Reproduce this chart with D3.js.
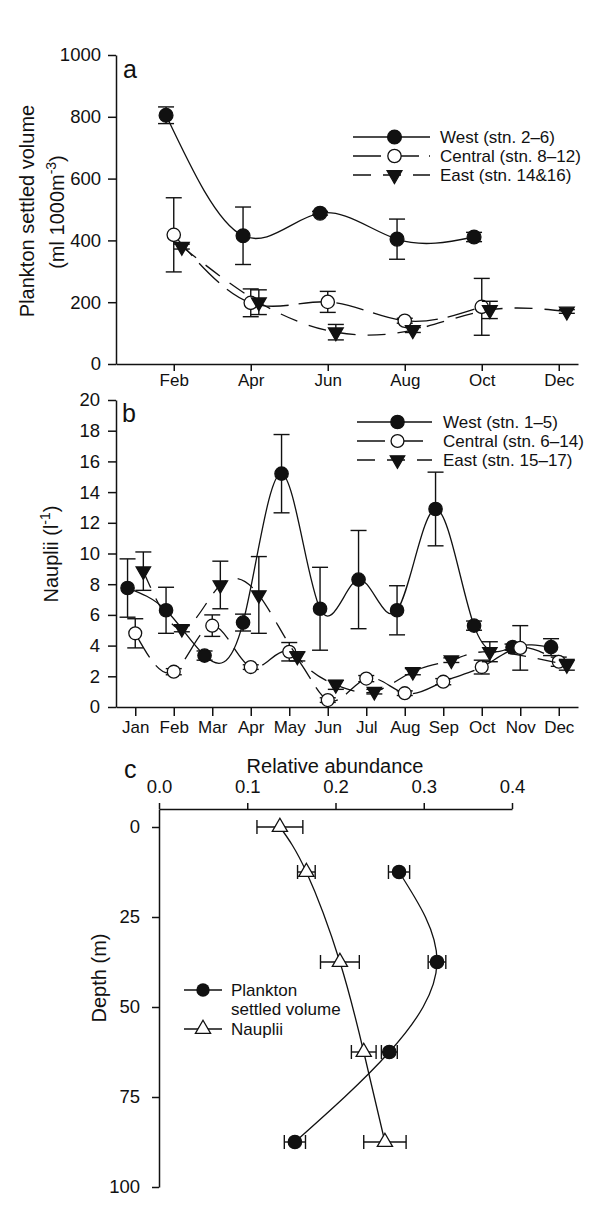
<!DOCTYPE html>
<html>
<head>
<meta charset="utf-8">
<script src="https://cdn.jsdelivr.net/npm/d3@7"></script>
<style>
  body { margin: 0; background: #fff; }
  text { font-family: "Liberation Sans", Arial, sans-serif; fill: #111; }
</style>
</head>
<body>
<script>
// ---- data ----
var monthNames = ["Jan","Feb","Mar","Apr","May","Jun","Jul","Aug","Sep","Oct","Nov","Dec"];

// panel a: plankton settled volume
var aTickMonths = [2, 4, 6, 8, 10, 12];
var aWestMonths = [2, 4, 6, 8, 10];
var aWest = [805, 415, 488, 404, 411];
var aWestErr = [27, 93, 6, 65, 15];
var aCentralMonths = [2, 4, 6, 8, 10];
var aCentral = [418, 198, 201, 140, 185];
var aCentralErr = [120, 45, 34, 8, 92];
var aEastMonths = [2, 4, 6, 8, 10, 12];
var aEast = [380, 200, 103, 110, 175, 170];
var aEastErr = [8, 40, 25, 8, 28, 6];

// panel b: nauplii
var bWestMonths = [1,2,3,4,5,6,7,8,9,10,11,12];
var bWest = [7.75, 6.3, 3.35, 5.5, 15.2, 6.4, 8.3, 6.3, 12.9, 5.3, 3.9, 3.9];
var bWestErr = [1.9, 1.5, 0.3, 0.55, 2.55, 2.7, 3.2, 1.6, 2.4, 0.3, 0.2, 0.55];
var bCentralMonths = [1,2,3,4,5,6,7,8,9,10,11,12];
var bCentral = [4.8, 2.3, 5.3, 2.6, 3.6, 0.45, 1.85, 0.9, 1.65, 2.6, 3.85, 2.95];
var bCentralErr = [0.95, 0.2, 0.7, 0.15, 0.6, 0.15, 0.2, 0.15, 0.2, 0.45, 1.45, 0.3];
var bEastMonths = [1,2,3,4,5,6,7,8,9,10,12];
var bEast = [8.85, 5.1, 7.95, 7.3, 3.3, 1.45, 1.0, 2.3, 3.05, 3.6, 2.75];
var bEastErr = [1.25, 0.2, 1.55, 2.5, 0.3, 0.3, 0.15, 0.2, 0.15, 0.65, 0.35];

// panel c: relative abundance by depth
var cDepthTicks = [0, 25, 50, 75, 100];
var cAbundTicks = [0, 0.1, 0.2, 0.3, 0.4];
var psvDepth = [12.5, 37.5, 62.5, 87.5];
var psv = [0.272, 0.315, 0.261, 0.154];
var psvErr = [0.012, 0.01, 0.009, 0.012];
var naupDepth = [0, 12.5, 37.5, 62.5, 87.5];
var naup = [0.137, 0.167, 0.205, 0.232, 0.256];
var naupErr = [0.026, 0.01, 0.022, 0.014, 0.024];

var westShift = -0.2, eastShift = 0.21;

var svg = d3.select("body").append("svg")
  .attr("width", 598)
  .attr("height", 1222);

svg.append("rect").attr("width", 598).attr("height", 1222).attr("fill", "#fff");

var INK = "#111";

function styleAxis(g, fs) {
  g.select(".domain").attr("stroke", INK).attr("stroke-width", 1.5);
  g.selectAll(".tick line").attr("stroke", INK).attr("stroke-width", 1.5);
  g.selectAll(".tick text").attr("font-size", fs + "px").attr("fill", INK)
    .attr("font-family", "Liberation Sans, Arial, sans-serif");
}

function zip(xs, ys, es) {
  return xs.map(function(x, i) { return {x: x, y: ys[i], e: es[i]}; });
}

// draws one series: line, error bars, markers
function drawSeries(g, pts, sx, sy, shift, opt) {
  var line = d3.line()
    .x(function(d) { return sx(d.x + shift); })
    .y(function(d) { return sy(d.y); })
    .curve(d3.curveNatural);

  g.append("path")
    .datum(pts)
    .attr("d", line)
    .attr("fill", "none")
    .attr("stroke", INK)
    .attr("stroke-width", 1.3)
    .attr("stroke-dasharray", opt.dash || null);

  var eb = g.append("g").attr("stroke", INK).attr("stroke-width", 1.4);
  pts.forEach(function(d) {
    var cx = sx(d.x + shift), y1 = sy(d.y + d.e), y2 = sy(d.y - d.e);
    eb.append("line").attr("x1", cx).attr("x2", cx).attr("y1", y1).attr("y2", y2);
    eb.append("line").attr("x1", cx - 8).attr("x2", cx + 8).attr("y1", y1).attr("y2", y1);
    eb.append("line").attr("x1", cx - 8).attr("x2", cx + 8).attr("y1", y2).attr("y2", y2);
  });

  g.selectAll(null)
    .data(pts)
    .enter()
    .append("path")
    .attr("transform", function(d) {
      return "translate(" + sx(d.x + shift) + "," + sy(d.y) + ")" + (opt.rot ? " rotate(180)" : "");
    })
    .attr("d", d3.symbol().type(opt.symbol).size(opt.size))
    .attr("fill", opt.fill)
    .attr("stroke", INK)
    .attr("stroke-width", 1.3);
}

function legendRow(g, x1, x2, y, dash, symbol, size, fill, rot, label, tx) {
  g.append("line").attr("x1", x1).attr("x2", x2).attr("y1", y).attr("y2", y)
    .attr("stroke", INK).attr("stroke-width", 1.3).attr("stroke-dasharray", dash || null);
  g.append("path")
    .attr("transform", "translate(" + ((x1 + x2) / 2 + 3) + "," + y + ")" + (rot ? " rotate(180)" : ""))
    .attr("d", d3.symbol().type(symbol).size(size))
    .attr("fill", fill).attr("stroke", INK).attr("stroke-width", 1.3);
  g.append("text").attr("x", tx).attr("y", y).attr("dy", "0.36em")
    .attr("font-size", "17px").text(label);
}

var CENTRAL_DASH = "28,10";
var EAST_DASH = "18,12";

// ================= panel a =================
var xA = d3.scaleLinear().domain([0.5, 12.5]).range([116, 578]);
var yA = d3.scaleLinear().domain([0, 1000]).range([364, 55]);

var gA = svg.append("g");
gA.append("g")
  .attr("transform", "translate(116,0)")
  .call(d3.axisLeft(yA).tickValues([0, 200, 400, 600, 800, 1000]).tickFormat(d3.format("d"))
    .tickSize(8).tickSizeOuter(0).tickPadding(7))
  .call(styleAxis, 18.5);
gA.append("g")
  .attr("transform", "translate(0,364)")
  .call(d3.axisBottom(xA).tickValues(aTickMonths).tickFormat(function(m) { return monthNames[m - 1]; })
    .tickSize(7).tickSizeOuter(0).tickPadding(3))
  .call(styleAxis, 17);

drawSeries(gA, zip(aWestMonths, aWest, aWestErr), xA, yA, westShift,
  {symbol: d3.symbolCircle, size: 150, fill: INK});
drawSeries(gA, zip(aCentralMonths, aCentral, aCentralErr), xA, yA, 0,
  {symbol: d3.symbolCircle, size: 140, fill: "#fff", dash: CENTRAL_DASH});
drawSeries(gA, zip(aEastMonths, aEast, aEastErr), xA, yA, eastShift,
  {symbol: d3.symbolTriangle, size: 95, fill: INK, rot: true, dash: EAST_DASH});

gA.append("text").attr("x", 123).attr("y", 78).attr("font-size", "25px").text("a");

gA.append("text")
  .attr("transform", "translate(34,211) rotate(-90)")
  .attr("text-anchor", "middle").attr("font-size", "20px")
  .text("Plankton settled volume");
var ta = gA.append("text")
  .attr("transform", "translate(64,212) rotate(-90)")
  .attr("text-anchor", "middle").attr("font-size", "20px");
ta.append("tspan").text("(ml 1000m");
ta.append("tspan").attr("baseline-shift", "super").attr("font-size", "14px").text("-3");
ta.append("tspan").text(")");

var legA = gA.append("g");
legendRow(legA, 353, 430, 137, null, d3.symbolCircle, 150, INK, false, "West (stn. 2\u20136)", 440);
legendRow(legA, 353, 430, 156, CENTRAL_DASH, d3.symbolCircle, 140, "#fff", false, "Central (stn. 8\u201312)", 440);
legendRow(legA, 353, 430, 175, EAST_DASH, d3.symbolTriangle, 95, INK, true, "East (stn. 14&16)", 440);

// ================= panel b =================
var xB = d3.scaleLinear().domain([0.5, 12.5]).range([116, 578]);
var yB = d3.scaleLinear().domain([0, 20]).range([707, 400]);

var gB = svg.append("g");
gB.append("g")
  .attr("transform", "translate(116,0)")
  .call(d3.axisLeft(yB).tickValues(d3.range(0, 21, 2)).tickSize(8).tickSizeOuter(0).tickPadding(8))
  .call(styleAxis, 18.5);
gB.append("g")
  .attr("transform", "translate(0,707)")
  .call(d3.axisBottom(xB).tickValues(d3.range(1, 13)).tickFormat(function(m) { return monthNames[m - 1]; })
    .tickSize(9).tickSizeOuter(0).tickPadding(5))
  .call(styleAxis, 17);

drawSeries(gB, zip(bWestMonths, bWest, bWestErr), xB, yB, westShift,
  {symbol: d3.symbolCircle, size: 140, fill: INK});
drawSeries(gB, zip(bCentralMonths, bCentral, bCentralErr), xB, yB, 0,
  {symbol: d3.symbolCircle, size: 130, fill: "#fff", dash: CENTRAL_DASH});
drawSeries(gB, zip(bEastMonths, bEast, bEastErr), xB, yB, eastShift,
  {symbol: d3.symbolTriangle, size: 90, fill: INK, rot: true, dash: EAST_DASH});

gB.append("text").attr("x", 122).attr("y", 422).attr("font-size", "25px").text("b");

var tb = gB.append("text")
  .attr("transform", "translate(58,554) rotate(-90)")
  .attr("text-anchor", "middle").attr("font-size", "20px");
tb.append("tspan").text("Nauplii (l");
tb.append("tspan").attr("baseline-shift", "super").attr("font-size", "14px").text("-1");
tb.append("tspan").text(")");

var legB = gB.append("g");
legendRow(legB, 357, 432, 422, null, d3.symbolCircle, 140, INK, false, "West (stn. 1\u20135)", 443);
legendRow(legB, 357, 432, 441, CENTRAL_DASH, d3.symbolCircle, 130, "#fff", false, "Central (stn. 6\u201314)", 443);
legendRow(legB, 357, 432, 460, EAST_DASH, d3.symbolTriangle, 90, INK, true, "East (stn. 15\u201317)", 443);

// ================= panel c =================
var xC = d3.scaleLinear().domain([0, 0.4]).range([159, 512]);
var yC = d3.scaleLinear().domain([-5, 100]).range([809, 1187]);

var gC = svg.append("g");
gC.append("g")
  .attr("transform", "translate(0,809)")
  .call(d3.axisTop(xC).tickValues(cAbundTicks).tickFormat(d3.format(".1f")).tickSize(6).tickSizeOuter(0).tickPadding(10))
  .call(styleAxis, 18.5);
gC.append("g")
  .attr("transform", "translate(159,0)")
  .call(d3.axisLeft(yC).tickValues(cDepthTicks).tickSize(7).tickSizeOuter(0).tickPadding(12))
  .call(styleAxis, 18.5);

function drawProfile(g, depths, vals, errs, opt) {
  var pts = depths.map(function(d, i) { return {d: d, v: vals[i], e: errs[i]}; });
  var line = d3.line()
    .x(function(p) { return xC(p.v); })
    .y(function(p) { return yC(p.d); })
    .curve(d3.curveNatural);
  g.append("path").datum(pts).attr("d", line)
    .attr("fill", "none").attr("stroke", INK).attr("stroke-width", 1.3);
  var eb = g.append("g").attr("stroke", INK).attr("stroke-width", 1.4);
  pts.forEach(function(p) {
    var cy = yC(p.d), x1 = xC(p.v - p.e), x2 = xC(p.v + p.e);
    eb.append("line").attr("x1", x1).attr("x2", x2).attr("y1", cy).attr("y2", cy);
    eb.append("line").attr("x1", x1).attr("x2", x1).attr("y1", cy - 7).attr("y2", cy + 7);
    eb.append("line").attr("x1", x2).attr("x2", x2).attr("y1", cy - 7).attr("y2", cy + 7);
  });
  g.selectAll(null).data(pts).enter().append("path")
    .attr("transform", function(p) { return "translate(" + xC(p.v) + "," + yC(p.d) + ")"; })
    .attr("d", d3.symbol().type(opt.symbol).size(opt.size))
    .attr("fill", opt.fill).attr("stroke", INK).attr("stroke-width", 1.3);
}

drawProfile(gC, psvDepth, psv, psvErr, {symbol: d3.symbolCircle, size: 140, fill: INK});
drawProfile(gC, naupDepth, naup, naupErr, {symbol: d3.symbolTriangle, size: 100, fill: "#fff"});

gC.append("text").attr("x", 124).attr("y", 778).attr("font-size", "25px").text("c");
gC.append("text").attr("x", 335).attr("y", 773).attr("text-anchor", "middle")
  .attr("font-size", "20px").text("Relative abundance");
gC.append("text")
  .attr("transform", "translate(106,978) rotate(-90)")
  .attr("text-anchor", "middle").attr("font-size", "20px")
  .text("Depth (m)");

var legC = gC.append("g");
legC.append("line").attr("x1", 184).attr("x2", 222).attr("y1", 990).attr("y2", 990)
  .attr("stroke", INK).attr("stroke-width", 1.3);
legC.append("path").attr("transform", "translate(203,990)")
  .attr("d", d3.symbol().type(d3.symbolCircle).size(140)).attr("fill", INK);
legC.append("text").attr("x", 231).attr("y", 990).attr("dy", "0.36em").attr("font-size", "17px").text("Plankton");
legC.append("text").attr("x", 231).attr("y", 1009).attr("dy", "0.36em").attr("font-size", "17px").text("settled volume");
legC.append("line").attr("x1", 184).attr("x2", 222).attr("y1", 1029).attr("y2", 1029)
  .attr("stroke", INK).attr("stroke-width", 1.3);
legC.append("path").attr("transform", "translate(203,1029)")
  .attr("d", d3.symbol().type(d3.symbolTriangle).size(100)).attr("fill", "#fff")
  .attr("stroke", INK).attr("stroke-width", 1.3);
legC.append("text").attr("x", 231).attr("y", 1029).attr("dy", "0.36em").attr("font-size", "17px").text("Nauplii");
</script>
</body>
</html>
